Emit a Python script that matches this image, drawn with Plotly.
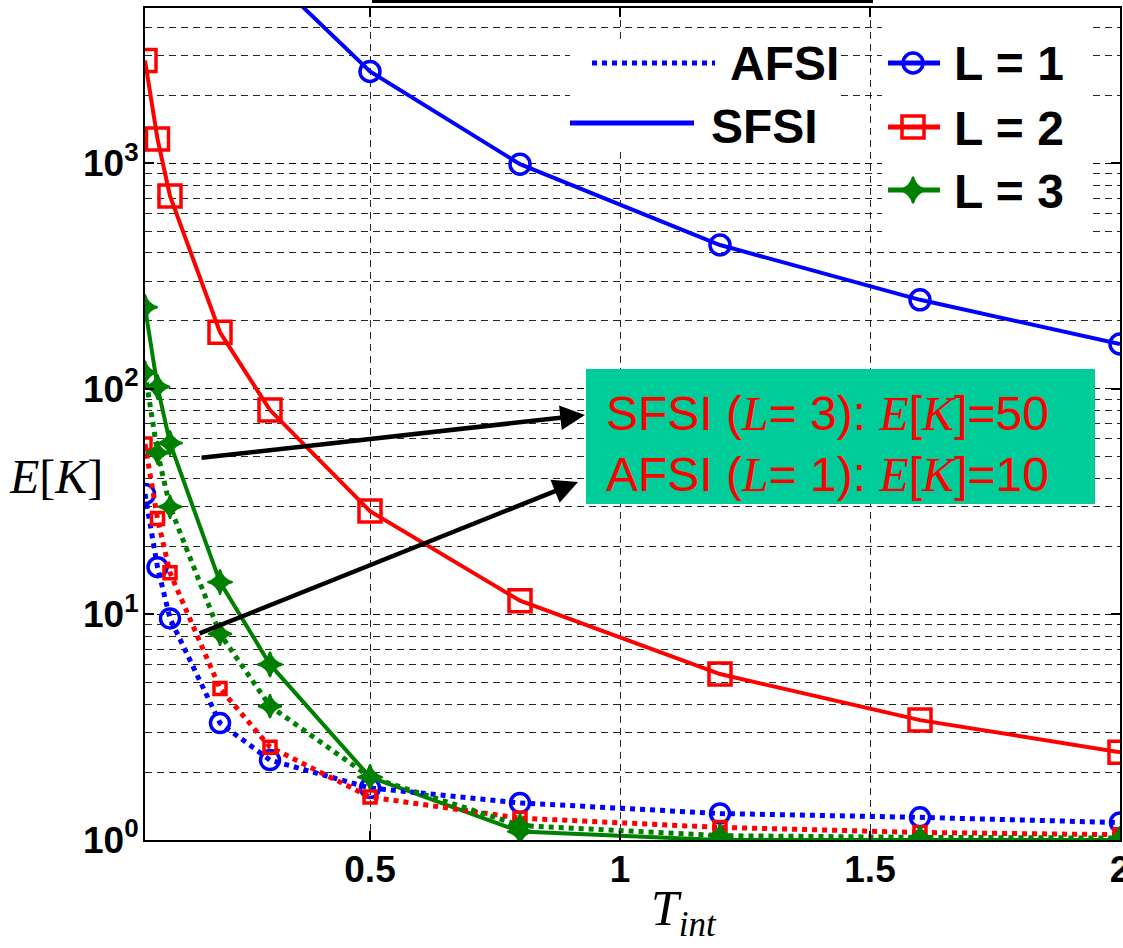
import plotly.graph_objects as go

# ---------------- data ----------------
T_INT = [0.05, 0.075, 0.1, 0.2, 0.3, 0.5, 0.8, 1.2, 1.6, 2.0]
T_INT_SFSI_L1 = [0.3, 0.5, 0.8, 1.2, 1.6, 2.0]

SFSI_L1 = [6800, 2550, 990, 434, 248, 158]
SFSI_L2 = [2850, 1280, 716, 178, 80.5, 28.7, 11.5, 5.44, 3.40, 2.45]
SFSI_L3 = [230, 102, 57.5, 13.9, 6.0, 1.90, 1.09, 1.0, 1.0, 1.0]

AFSI_L1 = [34.2, 16.2, 9.6, 3.3, 2.26, 1.70, 1.46, 1.31, 1.26, 1.195]
AFSI_L2 = [57, 26.6, 15.3, 4.7, 2.58, 1.55, 1.25, 1.137, 1.08, 1.055]
AFSI_L3 = [118, 52, 30, 8.2, 3.92, 1.90, 1.16, 1.045, 1.027, 1.02]

X_TICKS = [0.5, 1, 1.5, 2]
X_TICK_TEXT = ["0.5", "1", "1.5", "2"]
Y_TICKS = [1, 10, 100, 1000]
Y_TICK_TEXT = ["10<sup>0</sup>", "10<sup>1</sup>", "10<sup>2</sup>", "10<sup>3</sup>"]

BLUE = "rgb(0,0,255)"
RED = "rgb(255,0,0)"
GREEN = "rgb(0,128,0)"

# ---------------- layout geometry ----------------
W, H = 1123, 948
L, R, T, B = 145, 1120, 8, 840
XMIN, XMAX = 0.05, 2.0
YTOP_LOG = 3.688


def px(x):
    return (x - L) / (R - L)


def py(y):
    return (B - y) / (B - T)


def dx(x):
    return XMIN + (x - L) / (R - L) * (XMAX - XMIN)


def dy(y):
    return 10 ** (YTOP_LOG * (B - y) / (B - T))


fig = go.Figure()

series = [
    # x, y, color, dash, symbol, size
    (T_INT_SFSI_L1, SFSI_L1, BLUE, "solid", "circle-open", 20),
    (T_INT, SFSI_L2, RED, "solid", "square-open", 22),
    (T_INT, SFSI_L3, GREEN, "solid", "star-diamond", 18),
    (T_INT, AFSI_L1, BLUE, "dot", "circle-open", 19),
    (T_INT, AFSI_L2, RED, "dot", "square-open", 12),
    (T_INT, AFSI_L3, GREEN, "dot", "star-diamond", 17),
]
for xs, ys, col, dash, sym, size in series:
    fig.add_trace(go.Scatter(
        x=xs, y=ys, mode="lines+markers",
        line=dict(color=col, width=4 if dash == "solid" else 5, dash=dash),
        marker=dict(symbol=sym, size=size, color=col,
                    line=dict(color=col, width=3.5 if "open" in sym else 2)),
        showlegend=False, cliponaxis=True,
    ))

# ---------------- hand-drawn legend (on an overlay paper-like axis) ----------------
leg_lines = [
    # x0, x1, y, color, dash
    (592, 715, 63, BLUE, "dot"),
    (570, 694, 123, BLUE, "solid"),
    (888, 940, 63, BLUE, "solid"),
    (888, 940, 127, RED, "solid"),
    (888, 940, 190, GREEN, "solid"),
]
for x0, x1, yy, col, dash in leg_lines:
    fig.add_trace(go.Scatter(
        x=[px(x0), px(x1)], y=[py(yy), py(yy)], mode="lines",
        line=dict(color=col, width=5, dash=dash),
        xaxis="x2", yaxis="y2", showlegend=False, hoverinfo="skip"))
leg_marks = [
    (913, 63, BLUE, "circle-open", 20),
    (913, 127, RED, "square-open", 22),
    (913, 190, GREEN, "star-diamond", 19),
]
for xx, yy, col, sym, size in leg_marks:
    fig.add_trace(go.Scatter(
        x=[px(xx)], y=[py(yy)], mode="markers",
        marker=dict(symbol=sym, size=size, color=col,
                    line=dict(color=col, width=3.5 if "open" in sym else 2)),
        xaxis="x2", yaxis="y2", showlegend=False, hoverinfo="skip"))

LEG_FONT = dict(family="Liberation Sans, Arial", size=48, color="black", weight="bold")
leg_texts = [
    ("AFSI", 728, 64),
    ("SFSI", 709, 126),
    ("L = 1", 952, 64),
    ("L = 2", 952, 128),
    ("L = 3", 952, 191),
]
annotations = []
for txt, xx, yy in leg_texts:
    annotations.append(dict(text=txt, x=px(xx), y=py(yy), xref="paper", yref="paper",
                            xanchor="left", yanchor="middle", showarrow=False, font=LEG_FONT))

# legend background masks (hide grid, keep data)
shapes = [
    dict(type="rect", xref="x", yref="y", layer="between",
         x0=dx(570), x1=dx(838), y0=dy(150), y1=dy(40),
         fillcolor="white", line=dict(width=0)),
    dict(type="rect", xref="x", yref="y", layer="between",
         x0=dx(882), x1=dx(1092), y0=dy(234), y1=dy(18),
         fillcolor="white", line=dict(width=0)),
    # text box
    dict(type="rect", xref="paper", yref="paper", layer="above",
         x0=px(586), x1=px(1095), y0=py(504), y1=py(369),
         fillcolor="#00CC99", line=dict(width=0)),
    # cut-off title underline at the top
    dict(type="line", xref="paper", yref="paper", layer="above",
         x0=px(372), x1=px(873), y0=py(1.5), y1=py(1.5),
         line=dict(color="black", width=3)),
]

SER = "font-family:'Liberation Serif','Times New Roman',serif"
BOX_FONT = dict(family="Liberation Sans, Arial", size=48, color="red")
box_lines = [
    (f"SFSI (<span style=\"{SER}\"><i>L</i></span>= 3): "
     f"<span style=\"{SER}\"><i>E</i></span>[<span style=\"{SER}\"><i>K</i></span>]=50", 413),
    (f"AFSI (<span style=\"{SER}\"><i>L</i></span>= 1): "
     f"<span style=\"{SER}\"><i>E</i></span>[<span style=\"{SER}\"><i>K</i></span>]=10", 474),
]
for txt, yy in box_lines:
    annotations.append(dict(text=txt, x=px(604), y=py(yy), xref="paper", yref="paper",
                            xanchor="left", yanchor="middle", showarrow=False, font=BOX_FONT))

# arrows
arrows = [
    # head_x, head_y, tail_x, tail_y
    (585, 415, 200, 458),
    (578, 482, 198, 634),
]
for hx, hy, tx, ty in arrows:
    annotations.append(dict(text="", x=px(hx), y=py(hy), xref="paper", yref="paper",
                            ax=tx - hx, ay=ty - hy, showarrow=True, arrowhead=2,
                            arrowsize=1.1, arrowwidth=4.5, arrowcolor="black", standoff=0))

# axis titles
annotations.append(dict(text="<i>E</i>[<i>K</i>]", x=px(56), y=py(476), xref="paper", yref="paper",
                        xanchor="center", yanchor="middle", showarrow=False,
                        font=dict(family="Liberation Serif, Times New Roman", size=48, color="black")))
annotations.append(dict(text="<i>T</i><sub><i>int</i></sub>", x=px(684), y=py(912), xref="paper",
                        yref="paper", xanchor="center", yanchor="middle", showarrow=False,
                        font=dict(family="Liberation Serif, Times New Roman", size=50, color="black")))

TICK_FONT = dict(family="Liberation Sans, Arial", size=37, color="black", weight="bold")
GRID = "rgba(0,0,0,0.85)"

fig.update_layout(
    template="none",
    width=W, height=H,
    margin=dict(l=L, r=W - R, t=T, b=H - B, autoexpand=False),
    paper_bgcolor="white", plot_bgcolor="white",
    showlegend=False,
    xaxis=dict(
        range=[XMIN, XMAX], tickvals=X_TICKS, ticktext=X_TICK_TEXT, automargin=False,
        tickfont=TICK_FONT, ticks="inside", ticklen=9, tickwidth=1.5, tickcolor="black",
        showline=True, linecolor="black", linewidth=2, mirror="ticks",
        showgrid=True, gridcolor=GRID, gridwidth=1, griddash="7px,5px",
        zeroline=False, ticklabelstandoff=-4, ticklabeloverflow="allow",
    ),
    yaxis=dict(
        type="log", range=[0, YTOP_LOG], tickvals=Y_TICKS, ticktext=Y_TICK_TEXT,
        automargin=False,
        tickfont=TICK_FONT, ticks="inside", ticklen=9, tickwidth=1.5, tickcolor="black",
        showline=True, linecolor="black", linewidth=2, mirror="ticks",
        showgrid=True, gridcolor=GRID, gridwidth=1, griddash="7px,5px",
        minor=dict(showgrid=True, gridcolor=GRID, gridwidth=1, griddash="7px,5px",
                   dtick="D1", ticks=""),
        zeroline=False, ticklabelstandoff=-3, ticklabeloverflow="allow",
    ),
    xaxis2=dict(overlaying="x", range=[0, 1], visible=False, anchor="y2", fixedrange=True,
                automargin=False),
    yaxis2=dict(overlaying="y", range=[0, 1], visible=False, anchor="x2", fixedrange=True,
                automargin=False),
    annotations=annotations,
    shapes=shapes,
)

fig.write_html(
    "out.html",
    config={"displayModeBar": False},
    post_script=(
        "document.documentElement.style.overflow='hidden';"
        "document.body.style.margin='0';document.body.style.padding='0';"
        "document.body.style.overflow='hidden';"
        "var gd=document.getElementById('{plot_id}');"
        "gd.style.overflow='hidden';"
    ),
)
